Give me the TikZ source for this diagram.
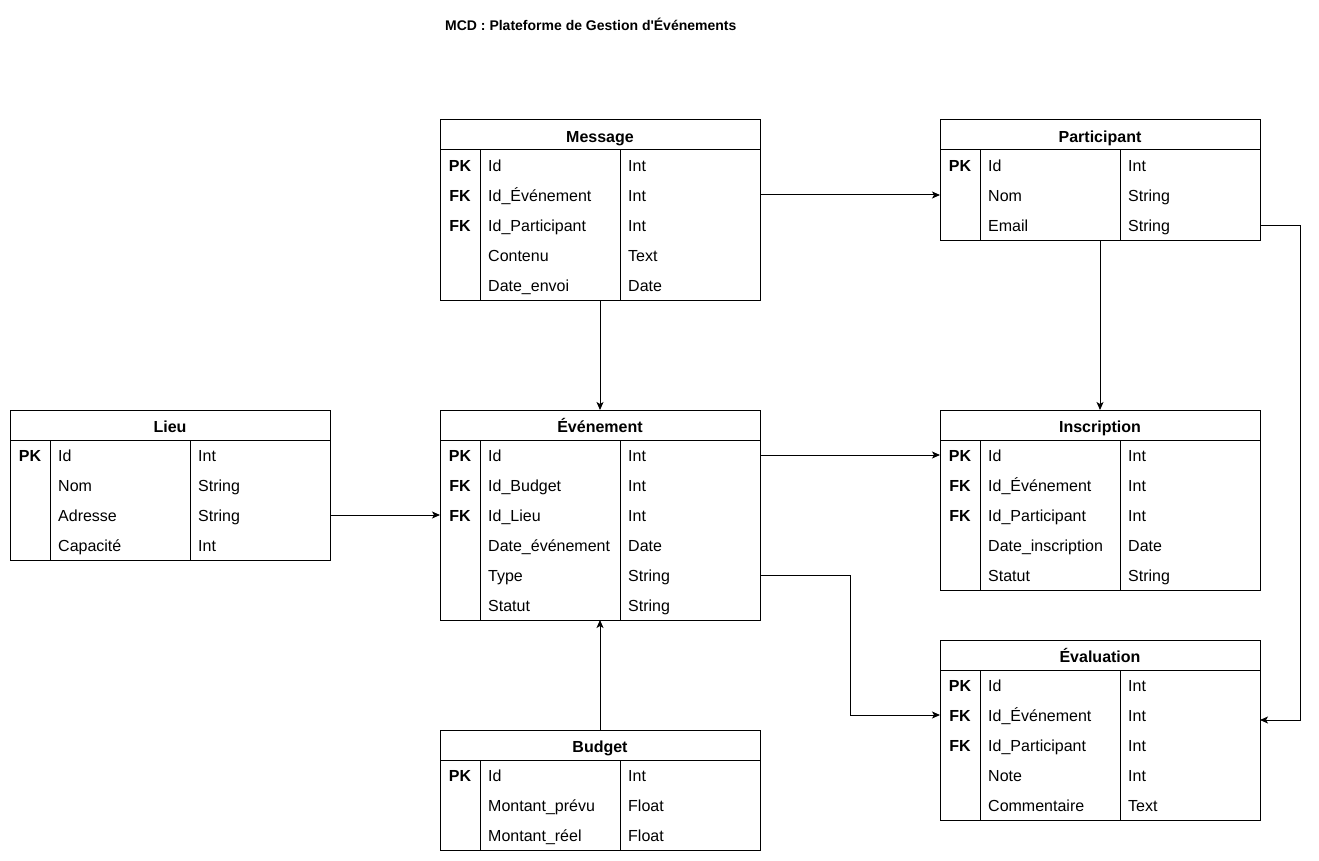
\documentclass[tikz,border=0pt]{standalone}
\usepackage{fontspec}
\setmainfont{Liberation Sans}[Ligatures=TeXOff]
\usetikzlibrary{arrows.meta,calc}
\tikzset{
  tbl/.style={draw=black, line width=1pt, fill=white, minimum width=320pt, inner sep=0pt, outer sep=0pt},
  txtbase/.style={inner sep=0pt, text height=11.5pt, text depth=0pt},
  hdr/.style={txtbase, font=\fontsize{16}{19}\selectfont\bfseries},
  keytxt/.style={txtbase, font=\fontsize{16}{19}\selectfont\bfseries},
  celltxt/.style={txtbase, font=\fontsize{16}{19}\selectfont, anchor=west},
  grid/.style={line width=1pt},
  conn/.style={line width=1pt, -{Stealth[length=8pt,width=7pt,inset=2pt]}},
}
% #1 name, #2 left x, #3 top y, #4 rows, #5 title
\newcommand{\ertable}[5]{%
  \pgfmathsetmacro{\erh}{30+30*#4}%
  \node[tbl, minimum height=\erh pt, anchor=north west] (#1) at (#2,#3) {};
  \node[hdr] (#1-h) at ($(#1.north)+(0,16.5)$) {#5};
  \draw[grid] ($(#1.north west)+(0,30)$) -- ($(#1.north east)+(0,30)$);
  \draw[grid] ($(#1.north west)+(40,30)$) -- ($(#1.south west)+(40,0)$);
  \draw[grid] ($(#1.north west)+(180,30)$) -- ($(#1.south west)+(180,0)$);
}
% #1 table, #2 row index, #3 key, #4 name, #5 type
\newcommand{\errow}[5]{%
  \coordinate (#1-r#2-w) at ($(#1.north west)+(0,15+30*#2)$);
  \coordinate (#1-r#2-e) at ($(#1.north east)+(0,15+30*#2)$);
  \node[keytxt] (#1-k#2) at ($(#1-r#2-w)+(20,0.7)$) {#3};
  \node[celltxt] (#1-n#2) at ($(#1-r#2-w)+(48,0.7)$) {#4};
  \node[celltxt] (#1-t#2) at ($(#1-r#2-w)+(188,0.7)$) {#5};
}
\begin{document}
\begin{tikzpicture}[x=1pt,y=-1pt]
\useasboundingbox[fill=white] (0,0) rectangle (1319,861);
\node[font=\fontsize{14}{17}\selectfont\bfseries, anchor=west, inner sep=0pt, text height=10pt, text depth=0pt] (title) at (445,25.5) {MCD : Plateforme de Gestion d'Événements};

\ertable{msg}{440}{120}{5}{Message}
\errow{msg}{1}{PK}{Id}{Int}
\errow{msg}{2}{FK}{Id\_Événement}{Int}
\errow{msg}{3}{FK}{Id\_Participant}{Int}
\errow{msg}{4}{}{Contenu}{Text}
\errow{msg}{5}{}{Date\_envoi}{Date}

\ertable{part}{940}{120}{3}{Participant}
\errow{part}{1}{PK}{Id}{Int}
\errow{part}{2}{}{Nom}{String}
\errow{part}{3}{}{Email}{String}

\ertable{lieu}{10}{410}{4}{Lieu}
\errow{lieu}{1}{PK}{Id}{Int}
\errow{lieu}{2}{}{Nom}{String}
\errow{lieu}{3}{}{Adresse}{String}
\errow{lieu}{4}{}{Capacité}{Int}

\ertable{evt}{440}{410}{6}{Événement}
\errow{evt}{1}{PK}{Id}{Int}
\errow{evt}{2}{FK}{Id\_Budget}{Int}
\errow{evt}{3}{FK}{Id\_Lieu}{Int}
\errow{evt}{4}{}{Date\_événement}{Date}
\errow{evt}{5}{}{Type}{String}
\errow{evt}{6}{}{Statut}{String}

\ertable{insc}{940}{410}{5}{Inscription}
\errow{insc}{1}{PK}{Id}{Int}
\errow{insc}{2}{FK}{Id\_Événement}{Int}
\errow{insc}{3}{FK}{Id\_Participant}{Int}
\errow{insc}{4}{}{Date\_inscription}{Date}
\errow{insc}{5}{}{Statut}{String}

\ertable{eval}{940}{640}{5}{Évaluation}
\errow{eval}{1}{PK}{Id}{Int}
\errow{eval}{2}{FK}{Id\_Événement}{Int}
\errow{eval}{3}{FK}{Id\_Participant}{Int}
\errow{eval}{4}{}{Note}{Int}
\errow{eval}{5}{}{Commentaire}{Text}

\ertable{bud}{440}{730}{3}{Budget}
\errow{bud}{1}{PK}{Id}{Int}
\errow{bud}{2}{}{Montant\_prévu}{Float}
\errow{bud}{3}{}{Montant\_réel}{Float}

\coordinate (evalin) at ($(eval.north east)+(0,80)$);

\draw[conn] (msg-r2-e) -- (part-r2-w);
\draw[conn] (msg.south) -- (evt.north);
\draw[conn] (part.south) -- (insc.north);
\draw[conn] (part-r3-e) -| ($(part-r3-e)+(40,0)$) |- (evalin);
\draw[conn] (lieu-r3-e) -- (evt-r3-w);
\draw[conn] (evt-r1-e) -- (insc-r1-w);
\draw[conn] (evt-r5-e) -| ($(evt-r5-e)+(90,0)$) |- (eval-r2-w);
\draw[conn] (bud.north) -- (evt.south);
\end{tikzpicture}
\end{document}
